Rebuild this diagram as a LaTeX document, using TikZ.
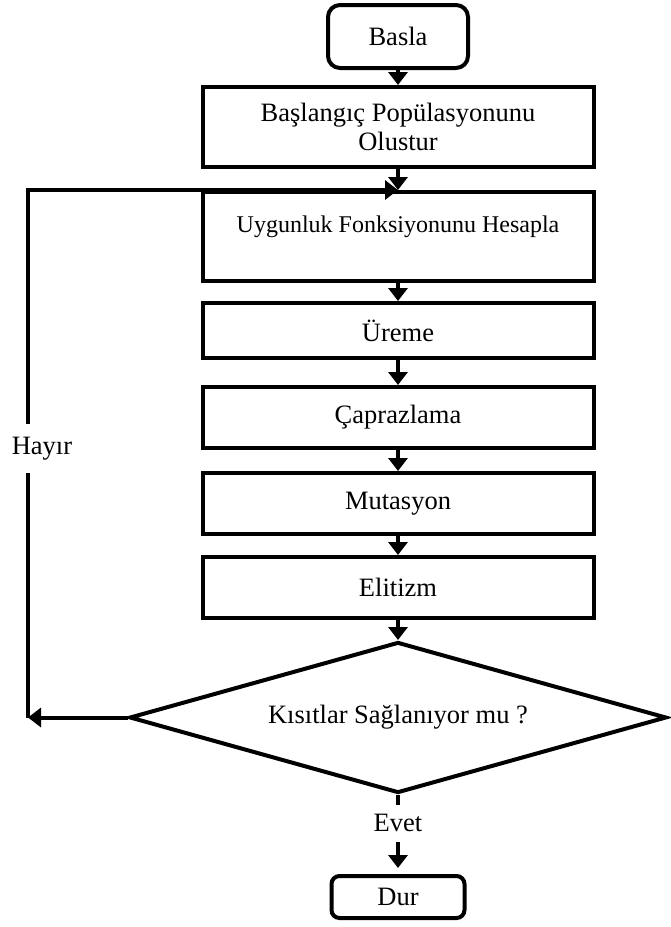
\documentclass[tikz,border=0pt]{standalone}
\usepackage{fontspec}
\setmainfont{Liberation Serif}
\usetikzlibrary{shapes,arrows.meta,positioning}

\begin{document}
\begin{tikzpicture}[
  x=0.5pt, y=-0.5pt,
  block/.style={rectangle, draw, line width=2pt, minimum width=195.5pt, align=center},
  term/.style={rectangle, rounded corners=6pt, draw, line width=2pt, align=center},
  decision/.style={diamond, draw, line width=2pt, aspect=3.56, minimum width=268.5pt, minimum height=75.5pt, inner sep=0pt},
  arrow/.style={-{Triangle[length=6.5pt,width=9.5pt]}, line width=2pt},
  font=\fontsize{13.25}{14.5}\selectfont
]
\useasboundingbox (0,0) rectangle (670,927);
\node[term, minimum width=70pt, minimum height=31.5pt] (start) at (398,36.5) {Basla};
\node[block, minimum height=40pt, below=7.5pt of start] (init) {Başlangıç Popülasyonunu\\Olustur};
\node[block, minimum height=44.5pt, text depth=12pt, font=\fontsize{12}{14}\selectfont, below=10.5pt of init] (fit)
  {Uygunluk Fonksiyonunu Hesapla};
\node[block, minimum height=27.5pt, below=9pt of fit] (repr) {Üreme};
\node[block, minimum height=30.5pt, below=12.5pt of repr] (cross) {Çaprazlama};
\node[block, minimum height=30.5pt, below=10.5pt of cross] (mut) {Mutasyon};
\node[block, minimum height=30.5pt, below=9.5pt of mut] (elit) {Elitizm};
\node[decision, below=10pt of elit] (check) {Kısıtlar Sağlanıyor mu ?};
\node[term, rounded corners=4pt, minimum width=66.5pt, minimum height=21pt, below=39.5pt of check] (stop) {Dur};
\coordinate (lft) at (28,0);

\draw[arrow] (start) -- (init);
\draw[arrow] (init) -- (fit);
\draw[arrow] (fit) -- (repr);
\draw[arrow] (repr) -- (cross);
\draw[arrow] (cross) -- (mut);
\draw[arrow] (mut) -- (elit);
\draw[arrow] (elit) -- (check);
\draw[arrow] (check.west) -- (check.west -| lft);
\draw[arrow] (check.west -| lft) -- node[pos=0.51, fill=white, xshift=7pt, inner ysep=6.6pt] {Hayır} (fit.north -| lft) -- (fit.north);
\draw[arrow, shorten >=3pt] (check.south) -- node[pos=0.36, fill=white, inner ysep=4.8pt] {Evet} (stop.north);
\end{tikzpicture}
\end{document}
